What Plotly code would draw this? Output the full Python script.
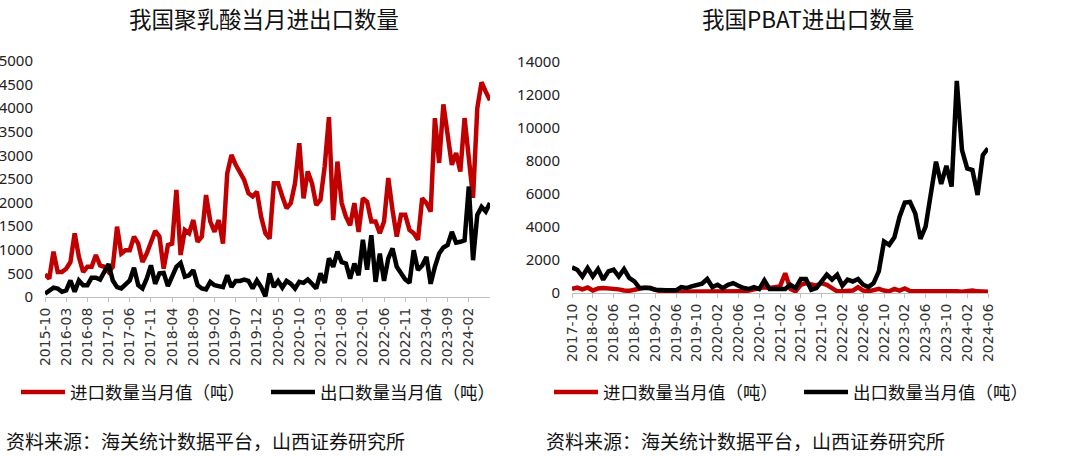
import pandas as pd
import plotly.graph_objects as go

# ---------------- data ----------------
pla_months = pd.period_range("2015-10", "2024-07", freq="M").strftime("%Y-%m").tolist()
pla_import = [480, 390, 960, 530, 530, 600, 740, 1350, 850, 530,
              640, 640, 890, 670, 640, 530, 640, 1490, 920, 990,
              990, 1280, 1130, 740, 920, 1130, 1400, 1280, 600, 1100,
              1130, 2270, 890, 1420, 1350, 1630, 1170, 1280, 2160, 1600,
              1380, 1630, 1130, 2620, 3010, 2800, 2660, 2480, 2200, 2130,
              2230, 1700, 1350, 1240, 2410, 2410, 2130, 1880, 1990, 2410,
              3260, 2090, 2660, 2410, 1950, 2060, 2770, 3810, 1630, 2870,
              1990, 1700, 1520, 1990, 1380, 2090, 2020, 1600, 1600, 1350,
              1600, 2520, 1840, 1280, 1740, 1740, 1420, 1350, 1210, 2090,
              1990, 1810, 3790, 2840, 4080, 3400, 2800, 3050, 2660, 3790,
              2950, 2100, 4000, 4550, 4350, 4170]
pla_export = [70, 140, 200, 180, 110, 140, 350, 110, 350, 250,
              250, 410, 410, 370, 530, 700, 350, 210, 180, 280,
              350, 620, 250, 180, 390, 670, 280, 500, 510, 230,
              460, 640, 720, 430, 460, 570, 250, 180, 160, 320,
              250, 230, 210, 460, 210, 340, 340, 370, 340, 180,
              350, 210, 15, 500, 210, 340, 200, 340, 280, 180,
              320, 300, 370, 280, 180, 500, 300, 820, 640, 960,
              740, 710, 390, 710, 460, 1210, 580, 1310, 320, 920,
              340, 820, 1030, 640, 500, 370, 300, 990, 570, 670,
              850, 280, 640, 920, 1050, 1100, 1380, 1150, 1170, 1200,
              2340, 780, 1740, 1910, 1810, 1990]
pla_ticks = pla_months[0:101:5]

pbat_months = pd.period_range("2017-10", "2024-06", freq="M").strftime("%Y-%m").tolist()
pbat_import = [250, 330, 220, 330, 150, 280, 300, 290, 270, 220,
               150, 130, 200, 280, 330, 300, 200, 100, 80, 80,
               80, 100, 100, 80, 100, 100, 120, 100, 80, 80,
               80, 100, 100, 100, 150, 200, 300, 350, 300, 350,
               400, 1200, 250, 100, 500, 600, 550, 450, 600, 500,
               300, 100, 100, 120, 150, 350, 150, 100, 150, 250,
               150, 100, 250, 150, 280, 120, 100, 100, 100, 150,
               150, 100, 150, 120, 100, 80, 150, 150, 100, 100, 80]
pbat_export = [1550, 1410, 1000, 1510, 1000, 1450, 810, 1310, 1410, 1000,
               1450, 910, 700, 300, 300, 300, 200, 160, 160, 160,
               160, 360, 300, 400, 500, 560, 850, 360, 500, 300,
               500, 600, 440, 300, 240, 360, 240, 770, 240, 240,
               300, 240, 500, 300, 850, 850, 200, 300, 700, 1110,
               810, 1110, 440, 810, 700, 850, 500, 360, 600, 1310,
               3120, 2920, 3380, 4630, 5480, 5520, 4830, 3280, 4030, 6040,
               7960, 6610, 7710, 6450, 12850, 8660, 7550, 7450, 5940, 8360, 8760]
pbat_ticks = pbat_months[0:81:4]

series_names = ["进口数量当月值（吨）", "出口数量当月值（吨）"]
colors = ["#C00000", "#000000"]

W, H = 1080, 457
CJK = "Noto Sans CJK SC"
NUM = "Noto Sans"

fig = go.Figure()
for vals, name, col in zip([pla_import, pla_export], series_names, colors):
    fig.add_trace(go.Scatter(x=pla_months, y=vals, name=name, mode="lines",
                             line=dict(color=col, width=4.5), xaxis="x", yaxis="y",
                             legend="legend"))
for vals, name, col in zip([pbat_import, pbat_export], series_names, colors):
    fig.add_trace(go.Scatter(x=pbat_months, y=vals, name=name, mode="lines",
                             line=dict(color=col, width=4.5), xaxis="x2", yaxis="y2",
                             legend="legend2"))

xcommon = dict(type="category", showgrid=False, showline=True, linecolor="#bfbfbf",
               linewidth=1, ticks="outside", ticklen=4, tickcolor="#bfbfbf",
               tickangle=-90, tickfont=dict(family="DejaVu Sans", size=14, color="#333333"),
               zeroline=False, automargin=False)
ycommon = dict(showgrid=False, showline=False, zeroline=False, ticks="",
               tickformat="d", automargin=False,
               tickfont=dict(family=NUM, size=15, color="#222222"), ticklabelstandoff=11)

legend_common = dict(orientation="h", y=1 - 392 / H, xanchor="left", yanchor="middle",
                     font=dict(family=CJK, size=17.5, color="#111111"), itemwidth=44,
                     entrywidth=191, entrywidthmode="pixels", bgcolor="rgba(0,0,0,0)")

fig.update_layout(
    width=W, height=H, margin=dict(l=0, r=0, t=0, b=0, autoexpand=False),
    paper_bgcolor="white", plot_bgcolor="white",
    xaxis=dict(xcommon, domain=[45 / W, 490 / W], range=[0, len(pla_months) - 1],
               tickmode="array", tickvals=pla_ticks, ticktext=pla_ticks, anchor="y"),
    yaxis=dict(ycommon, domain=[1 - 297 / H, 1 - 61 / H], range=[0, 5000], dtick=500,
               anchor="x"),
    xaxis2=dict(xcommon, domain=[572 / W, 988 / W], range=[0, len(pbat_months) - 1],
                tickmode="array", tickvals=pbat_ticks, ticktext=pbat_ticks, anchor="y2"),
    yaxis2=dict(ycommon, domain=[1 - 293 / H, 1 - 62 / H], range=[0, 14000], dtick=2000,
                anchor="x2"),
    legend=dict(legend_common, x=16 / W),
    legend2=dict(legend_common, x=549 / W),
    annotations=[
        dict(text="我国聚乳酸当月进出口数量", x=264 / W, y=1 - 18 / H, xref="paper", yref="paper",
             xanchor="center", yanchor="middle",
             showarrow=False, font=dict(family=CJK, size=22.5, color="#111111")),
        dict(text="我国PBAT进出口数量", x=808 / W, y=1 - 18 / H, xref="paper", yref="paper",
             xanchor="center", yanchor="middle",
             showarrow=False, font=dict(family=CJK, size=22.5, color="#111111")),
        dict(text="资料来源：海关统计数据平台，山西证券研究所", x=4 / W, y=1 - 440 / H,
             xref="paper", yref="paper", xanchor="left", yanchor="middle", showarrow=False,
             font=dict(family=CJK, size=19, color="#111111")),
        dict(text="资料来源：海关统计数据平台，山西证券研究所", x=544 / W, y=1 - 440 / H,
             xref="paper", yref="paper", xanchor="left", yanchor="middle", showarrow=False,
             font=dict(family=CJK, size=19, color="#111111")),
    ],
)

fig.write_html("out.html", config={"displayModeBar": False},
               post_script="document.body.style.margin='0';")
